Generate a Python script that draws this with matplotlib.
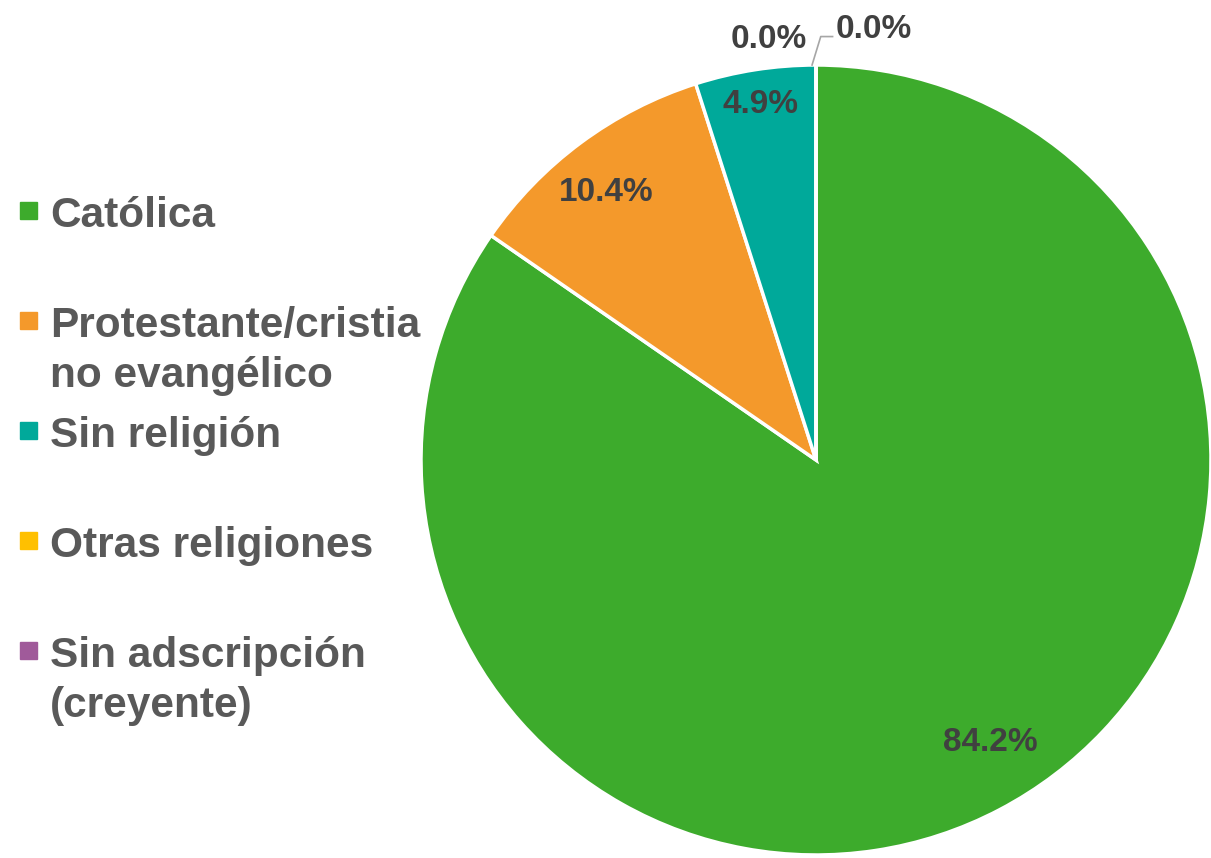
import numpy as np
import matplotlib.pyplot as plt

plt.rcParams['font.family'] = ['Liberation Sans', 'DejaVu Sans']

# Datos
categorias = ['Católica', 'Protestante/cristia\nno evangélico', 'Sin religión',
              'Otras religiones', 'Sin adscripción\n(creyente)']
valores = [84.2, 10.4, 4.9, 0.0, 0.0]
colores = ['#3DAB2C', '#F4992B', '#00A99A', '#FFC000', '#A05A9A']

W, H = 1211, 858
fig = plt.figure(figsize=(W / 100, H / 100), dpi=100)

# pie centred at (816, 460) px, radius 395 px
cx, cy, r = 816, 460, 395
ax = fig.add_axes([(cx - r) / W, (H - cy - r) / H, 2 * r / W, 2 * r / H])

wedges, _ = ax.pie(valores, colors=colores, startangle=90, counterclock=False,
                   wedgeprops=dict(edgecolor='white', linewidth=2.5))
ax.set_xlim(-1, 1)
ax.set_ylim(-1, 1)
ax.set_aspect('equal')
ax.axis('off')

# etiquetas de datos dentro de las porciones (radio, desplazamiento angular)
radios = [0.84, 0.86, 0.91]
giros = [4.0, 1.5, 0.0]
for w, v, rd, g in zip(wedges[:3], valores[:3], radios, giros):
    ang = np.deg2rad((w.theta1 + w.theta2) / 2 + g)
    ax.text(rd * np.cos(ang), rd * np.sin(ang), f'{v:.1f}%', ha='center',
            va='center', fontsize=24, fontweight='bold', color='#404040')

# etiquetas 0.0% fuera del pastel
ax.text(-0.12, 1.065, f'{valores[3]:.1f}%', ha='center', va='center',
        fontsize=24, fontweight='bold', color='#404040', clip_on=False)
ax.text(0.145, 1.09, f'{valores[4]:.1f}%', ha='center', va='center',
        fontsize=24, fontweight='bold', color='#404040', clip_on=False)
ax.plot([-0.01, 0.012, 0.042], [1.0, 1.072, 1.072], color='#A6A6A6',
        lw=1.2, clip_on=False)

# leyenda manual
for i, (cat, col) in enumerate(zip(categorias, colores)):
    top = 197 + 110 * i
    fig.patches.append(plt.Rectangle((20 / W, 1 - (top + 22) / H), 17 / W, 17 / H,
                                     transform=fig.transFigure, color=col))
    fig.text(50 / W, 1 - (top - 1) / H, cat, ha='left', va='top', fontsize=30.5,
             fontweight='bold', color='#595959', linespacing=1.32)

fig.savefig('out.png', dpi=100)
